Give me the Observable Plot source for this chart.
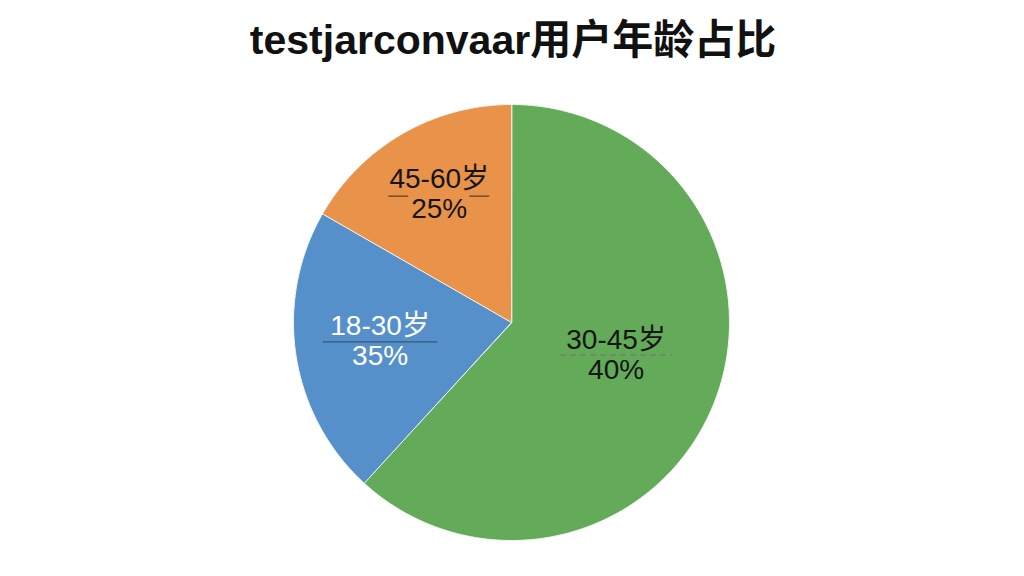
<!DOCTYPE html>
<html>
<head>
<meta charset="utf-8">
<script src="https://cdn.jsdelivr.net/npm/d3@7"></script>
<script src="https://cdn.jsdelivr.net/npm/@observablehq/plot@0.6"></script>
<style>
  html, body { margin: 0; padding: 0; background: #ffffff; }
  body { width: 1024px; height: 576px; overflow: hidden; font-family: "Liberation Sans", "Noto Sans CJK SC", sans-serif; }
  #title { height: 60px; padding-top: 20px; font-size: 41px; line-height: 1; font-weight: bold; text-align: center; color: #111; padding-left: 2px; }
</style>
</head>
<body>
<div id="title">testjarconvaar用户年龄占比</div>
<div id="chart"></div>
<script>
// Data
const categories = ["30-45岁", "18-30岁", "45-60岁"];
const sliceShares = [61.8, 21.5, 16.7];          // angular share as drawn
const percentLabels = ["40%", "35%", "25%"];      // printed labels
const sliceColors = ["#63aa59", "#5590cb", "#e8924a"];
const labelColors = ["#151515", "#ffffff", "#151515"];
const leaderColors = ["#6f8068", "#35495f", "#3a2e22"];
const leaderDash = ["6 4", null, "20 61 20 200"];
// layout tweaks (pixels / radius fractions)
const labelRadius = [0.5, 0.61, 0.68];
const labelDx = [3, 0, 2];
const labelDy = [-8, -2, -1];
const leaderDy = [1, 1, 3];
const leaderHalf = [0.257, 0.262, 0.234];

const table = categories.map((c, i) => ({category: c, share: sliceShares[i], pct: percentLabels[i], i}));
const arcs = d3.pie().sort(null).value(d => d.share)(table);

// Slice outlines as closed polygons (unit circle, y up)
const pts = [];
for (const a of arcs) {
  const key = a.data.category;
  pts.push({key, x: 0, y: 0});
  const n = Math.max(2, Math.ceil((a.endAngle - a.startAngle) / (Math.PI / 180)));
  for (let k = 0; k <= n; k++) {
    const t = a.startAngle + (a.endAngle - a.startAngle) * k / n;
    pts.push({key, x: Math.sin(t), y: Math.cos(t)});
  }
}

const labels = arcs.map(a => {
  const m = (a.startAngle + a.endAngle) / 2;
  const r = labelRadius[a.data.i];
  return {...a.data, x: r * Math.sin(m), y: r * Math.cos(m)};
});

const cx = 511, cy = 242, R = 218;
const chart = Plot.plot({
  width: 1024,
  height: 496,
  margin: 0,
  x: {domain: [-1, 1], range: [cx - R, cx + R], axis: null},
  y: {domain: [-1, 1], range: [cy + R, cy - R], axis: null},
  color: {domain: categories, range: sliceColors},
  style: {fontFamily: '"Liberation Sans", "Noto Sans CJK SC", sans-serif', background: "#ffffff"},
  marks: [
    Plot.line(pts, {x: "x", y: "y", z: "key", fill: "key", stroke: "#f4f4f4", strokeWidth: 1, strokeLinejoin: "round", curve: "linear-closed"}),
    ...labels.map(d => Plot.link([d], {
      x1: e => e.x - leaderHalf[e.i], x2: e => e.x + leaderHalf[e.i], y1: "y", y2: "y",
      dx: labelDx[d.i], dy: labelDy[d.i] + leaderDy[d.i],
      stroke: leaderColors[d.i], strokeWidth: 1.3, strokeDasharray: leaderDash[d.i], strokeOpacity: 0.8
    })),
    ...labels.map(d => Plot.text([d], {
      x: "x", y: "y", text: e => `${e.category}\n${e.pct}`,
      dx: labelDx[d.i], dy: labelDy[d.i],
      fill: labelColors[d.i], fontSize: 28, lineHeight: 1.07, textAnchor: "middle"
    }))
  ]
});
document.getElementById("chart").appendChild(chart);
</script>
</body>
</html>
